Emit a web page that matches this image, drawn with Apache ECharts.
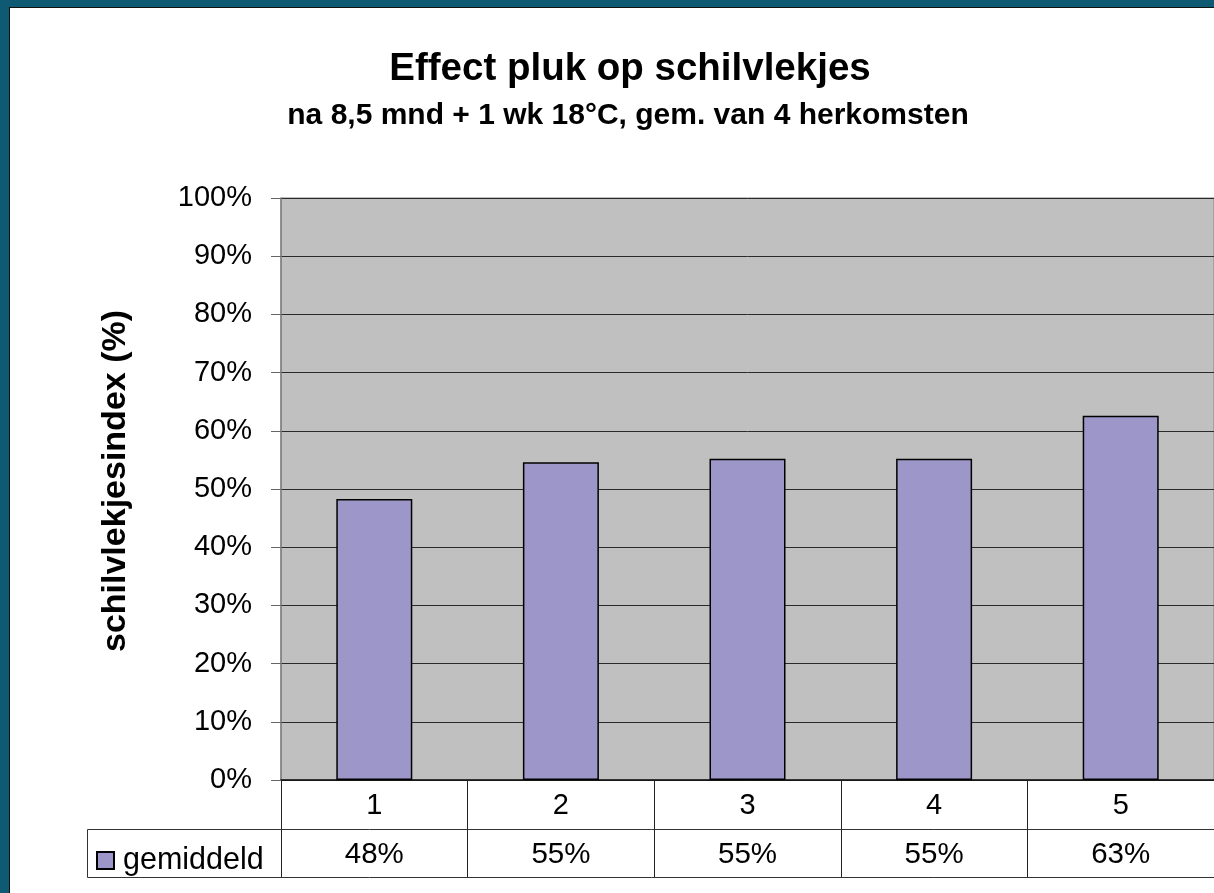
<!DOCTYPE html>
<html>
<head>
<meta charset="utf-8">
<title>Effect pluk op schilvlekjes</title>
<script src="https://cdn.jsdelivr.net/npm/echarts@6/dist/echarts.min.js"></script>
<style>
  html, body { margin: 0; padding: 0; width: 1214px; height: 893px; overflow: hidden; background: #0E5A73; }
  #frame { position: absolute; left: 9px; top: 7px; right: 0; bottom: 0; background: #fff;
           border-left: 1px solid #111; border-top: 1px solid #111; }
  #chart { position: absolute; left: 0; top: 0; width: 1214px; height: 893px; }
</style>
</head>
<body>
<div id="frame"></div>
<div id="chart"></div>
<script>
// Pluk (picking moment) categories and the mean peel-spot index per pluk, in %
const categories = ['1', '2', '3', '4', '5'];
const gemiddeld = [48.3, 54.6, 55.2, 55.2, 62.6];
const seriesName = 'gemiddeld';
const yMin = 0;
const yMax = 100;
const yStep = 10;

const FONT = '"Liberation Sans", Arial, sans-serif';
const BAR = '#9D97C9';

// plot area and data table layout
const gridLeft = 281, gridTop = 198, gridHeight = 582, gridWidth = 936.5;
const rowH = 49;
const tableLeft = 87;

const valueLabels = gemiddeld.map(v => Math.round(v) + '%');

const chart = echarts.init(document.getElementById('chart'), null, { renderer: 'canvas' });

chart.setOption({
  backgroundColor: 'transparent',
  animation: false,
  title: [
    {
      text: 'Effect pluk op schilvlekjes',
      left: 625, top: 45, textAlign: 'center',
      textStyle: { fontFamily: FONT, fontSize: 38.5, fontWeight: 'bold', color: '#000' }
    },
    {
      text: 'na 8,5 mnd + 1 wk 18°C, gem. van 4 herkomsten',
      left: 623, top: 96, textAlign: 'center',
      textStyle: { fontFamily: FONT, fontSize: 30, fontWeight: 'bold', color: '#000' }
    }
  ],
  legend: {
    data: [seriesName],
    left: 96, top: 845,
    padding: 0,
    icon: 'rect',
    itemWidth: 17, itemHeight: 17,
    selectedMode: false,
    textStyle: { fontFamily: FONT, fontSize: 30.5, color: '#000', padding: [0, 0, 0, 4] }
  },
  grid: {
    left: gridLeft, top: gridTop, width: gridWidth, height: gridHeight,
    show: true, backgroundColor: '#C0C0C0', borderColor: '#808080', borderWidth: 1
  },
  xAxis: [
    {
      type: 'category',
      data: categories,
      position: 'bottom',
      axisLine: { show: true, lineStyle: { color: '#111', width: 1.5 } },
      axisTick: { show: true, length: rowH * 2, lineStyle: { color: '#222', width: 1 } },
      axisLabel: { fontFamily: FONT, fontSize: 29, color: '#000', margin: 11 },
      splitLine: { show: false }
    },
    {
      type: 'category',
      data: valueLabels,
      position: 'bottom',
      axisLine: { show: false },
      axisTick: { show: false },
      axisLabel: { fontFamily: FONT, fontSize: 29.5, color: '#000', margin: 11 + rowH },
      splitLine: { show: false }
    }
  ],
  yAxis: {
    type: 'value',
    min: yMin, max: yMax, interval: yStep,
    name: 'schilvlekjesindex (%)',
    nameLocation: 'middle',
    nameRotate: 90,
    nameGap: 148,
    nameTextStyle: { fontFamily: FONT, fontSize: 34, fontWeight: 'bold', color: '#000', padding: [0, 0, 0, 16] },
    axisLine: { show: true, lineStyle: { color: '#808080', width: 1.5 } },
    axisTick: { show: true, length: 10, lineStyle: { color: '#666' } },
    axisLabel: { fontFamily: FONT, fontSize: 29, color: '#000', margin: 29, formatter: '{value}%' },
    splitLine: { show: true, lineStyle: { color: '#2a2a2a', width: 1 } }
  },
  series: [
    {
      name: seriesName,
      type: 'bar',
      xAxisIndex: 0,
      data: gemiddeld,
      barWidth: 76,
      itemStyle: { color: BAR, borderColor: '#000', borderWidth: 1.5 },
      emphasis: { disabled: true }
    }
  ],
  graphic: [
    {
      // outline of the value row and legend cell of the data table
      type: 'rect',
      silent: true,
      z: 100,
      shape: { x: tableLeft + 0.5, y: gridTop + gridHeight + rowH + 0.5, width: 1300, height: rowH - 1 },
      style: { fill: 'none', stroke: '#333', lineWidth: 1 }
    }
  ]
});
</script>
</body>
</html>
